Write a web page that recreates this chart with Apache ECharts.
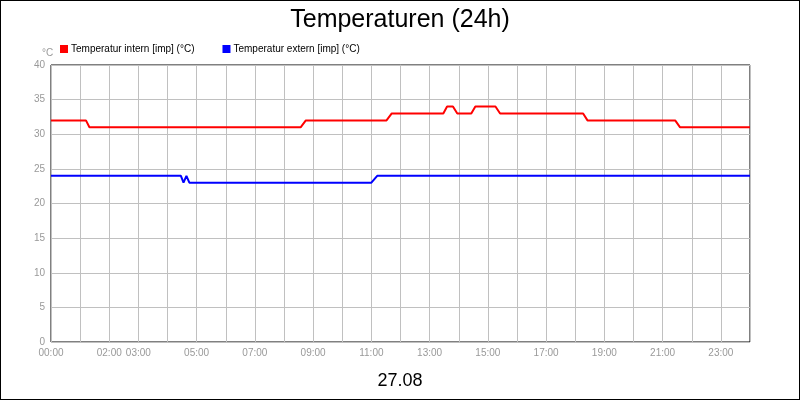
<!DOCTYPE html>
<html><head><meta charset="utf-8">
<script src="https://cdn.jsdelivr.net/npm/echarts@6/dist/echarts.min.js"></script>
<style>html,body{margin:0;padding:0;background:#fff}#c{width:798px;height:398px;border:1px solid #000}</style>
</head><body><div id="c"></div>
<script>
const seriesNames = ['Temperatur intern [imp] (°C)', 'Temperatur extern [imp] (°C)'];
const hourLabels = {0:'00:00',2:'02:00',3:'03:00',5:'05:00',7:'07:00',9:'09:00',11:'11:00',13:'13:00',15:'15:00',17:'17:00',19:'19:00',21:'21:00',23:'23:00'};
const internHours = [0,1.2,1.32,8.57,8.75,11.52,11.7,13.47,13.6,13.8,13.95,14.43,14.57,15.26,15.42,18.27,18.42,21.43,21.6,24];
const internVals  = [32,32,31,31,32,32,33,33,34,34,33,33,34,34,33,33,32,32,31,31];
const externHours = [0,4.46,4.55,4.65,4.75,11.0,11.2,24];
const externVals  = [24,24,23,24,23,23,24,24];
const zip=(h,v)=>h.map((x,i)=>[x,v[i]]);
const chart = echarts.init(document.getElementById('c'));
chart.setOption({
  animation:false,
  title:[{text:'Temperaturen (24h)',left:'center',top:2,textStyle:{fontFamily:'Liberation Sans',fontSize:25,fontWeight:'normal',color:'#000'}},
         {text:'27.08',left:'center',top:366,textStyle:{fontFamily:'Liberation Sans',fontSize:18,fontWeight:'normal',color:'#000'}},
         {text:'°C',left:36,top:42,textStyle:{fontFamily:'Liberation Sans',fontSize:10,fontWeight:'normal',color:'#999'}}],
  legend:{left:54,top:38,itemWidth:8,itemHeight:8,itemGap:28,icon:'rect',textStyle:{fontFamily:'Liberation Sans',fontSize:10,color:'#000',padding:[0,0,0,-2]},data:seriesNames},
  grid:{left:50,right:49,top:64,bottom:57,show:true,borderColor:'#000',borderWidth:1},
  xAxis:{type:'value',min:0,max:24,interval:1,axisLine:{show:false},axisTick:{show:false},
    splitLine:{lineStyle:{color:'#c0c0c0'}},
    axisLabel:{color:'#999',fontFamily:'Liberation Sans',fontSize:10,margin:6,showMaxLabel:false,formatter:v=>hourLabels[v]||''}},
  yAxis:{type:'value',min:0,max:40,interval:5,axisLine:{show:false},axisTick:{show:false},
    splitLine:{lineStyle:{color:'#c0c0c0'}},
    axisLabel:{color:'#999',fontFamily:'Liberation Sans',fontSize:10,margin:6}},
  series:[
    {name:seriesNames[0],type:'line',data:zip(internHours,internVals),showSymbol:false,color:'#ff0000',lineStyle:{width:2}},
    {name:seriesNames[1],type:'line',data:zip(externHours,externVals),showSymbol:false,color:'#0000ff',lineStyle:{width:2}}
  ]
});
</script></body></html>
